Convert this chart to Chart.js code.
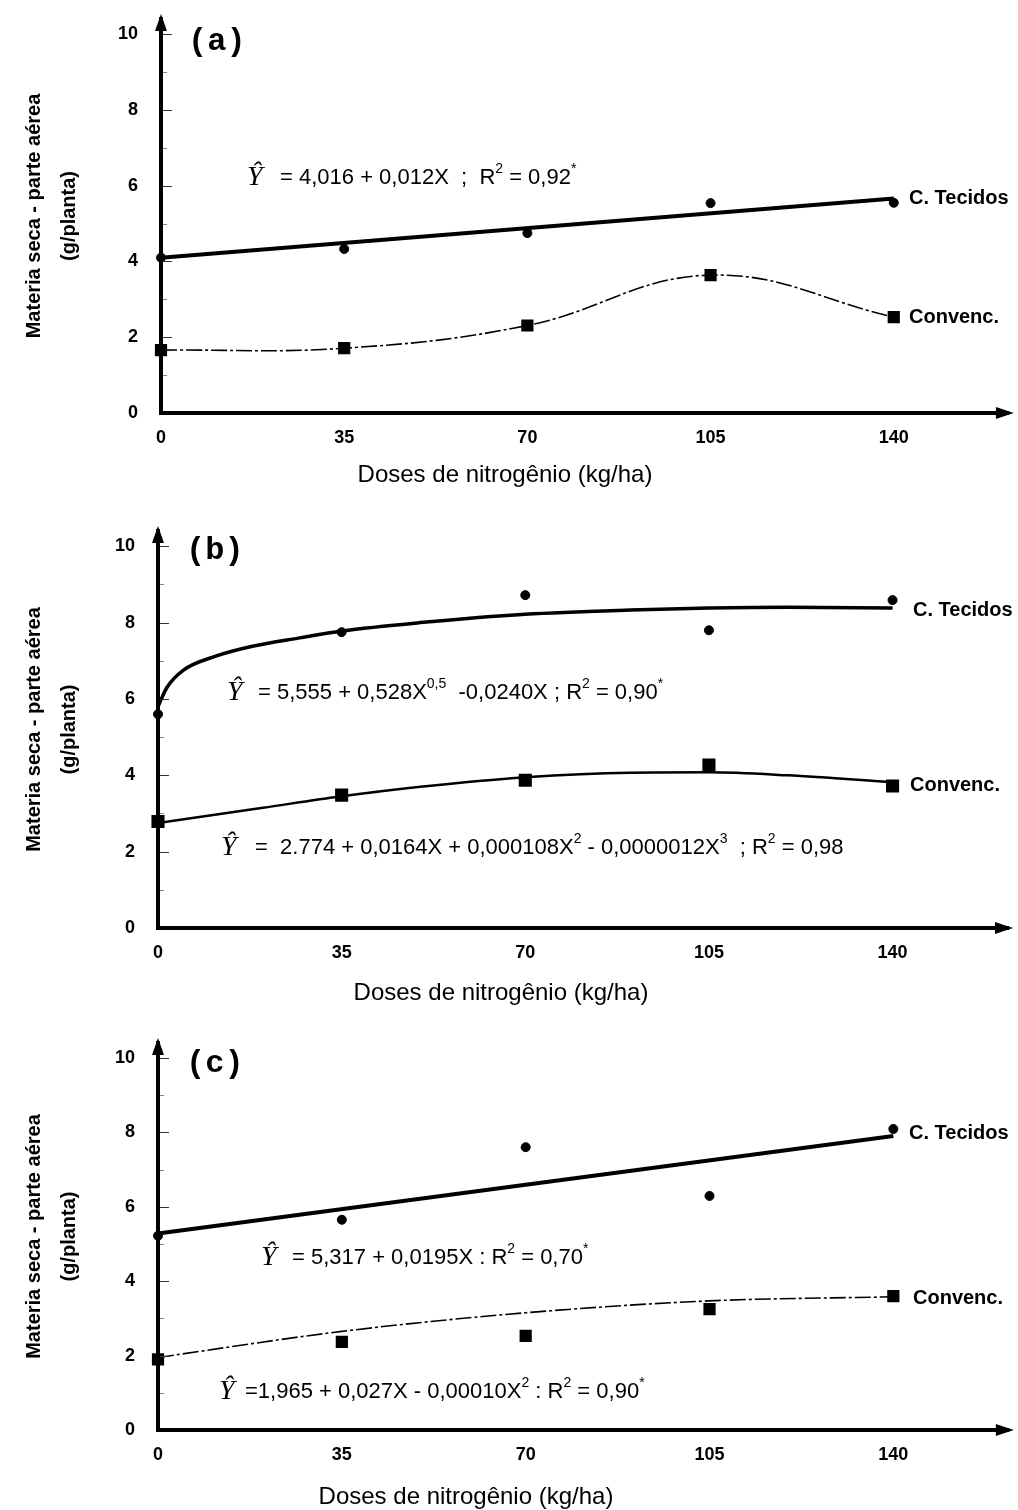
<!DOCTYPE html>
<html>
<head>
<meta charset="utf-8">
<script src="https://cdn.jsdelivr.net/npm/chart.js@4.4.1/dist/chart.umd.min.js"></script>
<style>
  body { margin: 0; background: #fff; }
  #wrap { position: relative; width: 1018px; height: 1510px; }
  canvas { position: absolute; left: 0; }
</style>
</head>
<body>
<div id="wrap">
  <canvas id="graph_a" width="1018" height="500" style="top:0px"></canvas>
  <canvas id="graph_b" width="1018" height="510" style="top:500px"></canvas>
  <canvas id="graph_c" width="1018" height="500" style="top:1010px"></canvas>
</div>
<script>
/*------------------------------*/
/*            DATA              */
/*------------------------------*/
var doses = [0, 35, 70, 105, 140]
var doseTicks = [0, 35, 70, 105, 140]
var massTicks = [0, 2, 4, 6, 8, 10]

// (a)
var a_tecidos = [4.1, 4.33, 4.75, 5.54, 5.55]
var a_convenc = [1.66, 1.71, 2.31, 3.64, 2.53]
var a_tecidosFitX = [0, 140]
var a_tecidosFitY = [4.1, 5.66]

// (b)
var b_tecidos = [5.6, 7.75, 8.72, 7.8, 8.59]
var b_convenc = [2.79, 3.48, 3.87, 4.27, 3.72]
var b_tecidosFitX = [0, 1.7, 4.8, 11, 18, 27, 35, 50, 70, 90, 105, 120, 140]
var b_tecidosFitY = [5.8, 6.3, 6.75, 7.12, 7.38, 7.6, 7.78, 8.0, 8.22, 8.33, 8.38, 8.4, 8.38]
var b_convencFitX = [0, 20, 35, 50, 70, 90, 105, 120, 140]
var b_convencFitY = [2.75, 3.15, 3.45, 3.7, 3.95, 4.07, 4.08, 4.0, 3.82]

// (c)
var c_tecidos = [5.22, 5.65, 7.6, 6.29, 8.09]
var c_convenc = [1.9, 2.37, 2.53, 3.25, 3.6]
var c_tecidosFitX = [0, 140]
var c_tecidosFitY = [5.28, 7.9]
var c_convencFitX = [0, 35, 70, 105, 140]
var c_convencFitY = [1.95, 2.65, 3.15, 3.47, 3.58]

var yTitle = ['Materia seca - parte aérea', '(g/planta)']
var xTitle = 'Doses de nitrogênio (kg/ha)'

/*------------------------------*/
/*           HELPERS            */
/*------------------------------*/
var SANS = '"Liberation Sans", Arial, sans-serif'

function pts(xs, ys) {
  return xs.map(function (x, i) { return { x: x, y: ys[i] } })
}

function richText(ctx, x, y, str, size) {
  var parts = str.split(/(\^\{[^}]*\})/)
  parts.forEach(function (p) {
    if (!p) return
    if (p[0] === '^') {
      var t = p.slice(2, -1)
      ctx.font = Math.round(size * 0.62) + 'px ' + SANS
      ctx.fillText(t, x, y - size * 0.38)
      x += ctx.measureText(t).width
    } else {
      ctx.font = size + 'px ' + SANS
      ctx.fillText(p, x, y)
      x += ctx.measureText(p).width
    }
  })
}

var decor = {
  id: 'decor',
  afterDraw: function (chart, args, o) {
    var ctx = chart.ctx, ca = chart.chartArea
    var ys = chart.scales.y
    ctx.save()
    ctx.fillStyle = '#000'
    ctx.strokeStyle = '#000'

    // small inward ticks on y axis
    ctx.lineWidth = 1
    for (var v = 1; v <= 10; v++) {
      var py = Math.round(ys.getPixelForValue(v)) + 0.5
      ctx.strokeStyle = v % 2 ? '#888' : '#333'
      ctx.beginPath()
      ctx.moveTo(ca.left + 2, py)
      ctx.lineTo(ca.left + (v % 2 ? 6 : 11), py)
      ctx.stroke()
    }

    // arrows
    ctx.beginPath()
    ctx.moveTo(ca.left, ca.top - 5)
    ctx.lineTo(ca.left - 6, ca.top + 12)
    ctx.lineTo(ca.left + 6, ca.top + 12)
    ctx.closePath(); ctx.fill()
    ctx.beginPath()
    ctx.moveTo(ca.right + 5, ca.bottom)
    ctx.lineTo(ca.right - 13, ca.bottom - 6)
    ctx.lineTo(ca.right - 13, ca.bottom + 6)
    ctx.closePath(); ctx.fill()

    ctx.textBaseline = 'middle'
    ctx.textAlign = 'left'

    // panel letter
    ctx.font = 'bold 32px "Liberation Mono", "Courier New", monospace'
    ctx.fillText(o.letter, o.letterPos[0], o.letterPos[1])

    // series labels
    ctx.font = 'bold 20px ' + SANS
    ctx.fillText('C. Tecidos', o.tecPos[0], o.tecPos[1])
    ctx.fillText('Convenc.', o.conPos[0], o.conPos[1])

    // equations
    o.eqs.forEach(function (e) {
      ctx.font = 'italic 28px "Liberation Serif", "Times New Roman", serif'
      ctx.fillText('\u0176', e.yx, e.y)
      richText(ctx, e.x, e.y, e.text, 22)
    })

    // x title
    ctx.textAlign = 'center'
    ctx.font = '24px ' + SANS
    ctx.fillText(xTitle, o.xTitlePos[0], o.xTitlePos[1])
    ctx.restore()
  }
}

function makeConfig(p) {
  return {
    type: 'scatter',
    data: {
      datasets: [
        { label: 'C. Tecidos', data: pts(doses, p.tec), pointStyle: 'circle', pointRadius: 4.5,
          backgroundColor: '#000', borderColor: '#000', clip: false },
        { label: 'Convenc.', data: pts(doses, p.con), pointStyle: 'rect', pointRadius: 7.5,
          backgroundColor: '#000', borderColor: '#000', borderWidth: p.conWidth, borderDash: p.conDash,
          showLine: p.conThrough, tension: 0.4, clip: false },
        { label: 'fit tec', data: pts(p.tecFitX, p.tecFitY), showLine: true, pointRadius: 0,
          borderColor: '#000', borderWidth: p.tecWidth, cubicInterpolationMode: 'monotone', clip: false },
        { label: 'fit con', data: p.conFitX ? pts(p.conFitX, p.conFitY) : [], showLine: true, pointRadius: 0,
          borderColor: '#000', borderWidth: p.conWidth, borderDash: p.conDash,
          cubicInterpolationMode: 'monotone', clip: false }
      ]
    },
    options: {
      responsive: false,
      animation: false,
      layout: { padding: { top: p.areaTop, right: 8, left: 0, bottom: 0 } },
      plugins: { legend: { display: false }, tooltip: { enabled: false }, decor: p.decor },
      scales: {
        x: {
          type: 'linear', min: 0, max: 162,
          afterBuildTicks: function (s) { s.ticks = doseTicks.map(function (v) { return { value: v } }) },
          afterFit: function (s) { s.height = p.height - p.areaBottom; s.paddingLeft = 0; s.paddingRight = 0 },
          ticks: { autoSkip: false, maxRotation: 0, padding: 14, color: '#000',
                   font: { family: SANS, size: 18, weight: 'bold' } },
          grid: { drawOnChartArea: false, drawTicks: false },
          border: { display: true, width: 4, color: '#000' }
        },
        y: {
          type: 'linear', min: 0, max: 10.4,
          afterBuildTicks: function (s) { s.ticks = massTicks.map(function (v) { return { value: v } }) },
          afterFit: function (s) { s.width = p.left; s.paddingTop = 0; s.paddingBottom = 0 },
          ticks: { padding: 23, color: '#000', font: { family: SANS, size: 18, weight: 'bold' } },
          grid: { drawOnChartArea: false, drawTicks: false },
          border: { display: true, width: 4, color: '#000' },
          title: { display: true, text: yTitle, color: '#000',
                   font: { family: SANS, size: 20, weight: 'bold', lineHeight: '35px' },
                   padding: { top: 17, bottom: 0 } }
        }
      }
    },
    plugins: [decor]
  }
}

/*------------------------------*/
/*         GRAPHIQUE (a)        */
/*------------------------------*/
var ctx_a = document.getElementById('graph_a').getContext('2d')
var graph_a = new Chart(ctx_a, makeConfig({
  tec: a_tecidos, con: a_convenc, tecFitX: a_tecidosFitX, tecFitY: a_tecidosFitY,
  conFitX: null, conFitY: null, conThrough: true,
  tecWidth: 4, conWidth: 1.6, conDash: [16, 3, 3, 3],
  height: 500, areaTop: 19, areaBottom: 413, left: 161,
  decor: {
    letter: '(a)', letterPos: [188, 42], tecPos: [909, 198], conPos: [909, 317],
    eqs: [{ yx: 247, x: 280, y: 178, text: '= 4,016 + 0,012X  ;  R^{2} = 0,92^{*}' }],
    xTitlePos: [505, 475]
  }
}))

/*------------------------------*/
/*         GRAPHIQUE (b)        */
/*------------------------------*/
var ctx_b = document.getElementById('graph_b').getContext('2d')
var graph_b = new Chart(ctx_b, makeConfig({
  tec: b_tecidos, con: b_convenc, tecFitX: b_tecidosFitX, tecFitY: b_tecidosFitY,
  conFitX: b_convencFitX, conFitY: b_convencFitY, conThrough: false,
  tecWidth: 3.5, conWidth: 2.5, conDash: [],
  height: 510, areaTop: 31, areaBottom: 428, left: 158,
  decor: {
    letter: '(b)', letterPos: [186, 51], tecPos: [913, 110], conPos: [910, 285],
    eqs: [{ yx: 227, x: 258, y: 193, text: '= 5,555 + 0,528X^{0,5}  -0,0240X ; R^{2} = 0,90^{*}' },
          { yx: 221, x: 255, y: 348, text: '=  2.774 + 0,0164X + 0,000108X^{2} - 0,0000012X^{3}  ; R^{2} = 0,98' }],
    xTitlePos: [501, 993 - 500]
  }
}))

/*------------------------------*/
/*         GRAPHIQUE (c)        */
/*------------------------------*/
var ctx_c = document.getElementById('graph_c').getContext('2d')
var graph_c = new Chart(ctx_c, makeConfig({
  tec: c_tecidos, con: c_convenc, tecFitX: c_tecidosFitX, tecFitY: c_tecidosFitY,
  conFitX: c_convencFitX, conFitY: c_convencFitY, conThrough: false,
  tecWidth: 4, conWidth: 1.6, conDash: [16, 3, 3, 3],
  height: 500, areaTop: 33, areaBottom: 420, left: 158,
  decor: {
    letter: '(c)', letterPos: [186, 54], tecPos: [909, 123], conPos: [913, 288],
    eqs: [{ yx: 261, x: 292, y: 248, text: '= 5,317 + 0,0195X : R^{2} = 0,70^{*}' },
          { yx: 219, x: 245, y: 382, text: '=1,965 + 0,027X - 0,00010X^{2} : R^{2} = 0,90^{*}' }],
    xTitlePos: [466, 487]
  }
}))
</script>
</body>
</html>
